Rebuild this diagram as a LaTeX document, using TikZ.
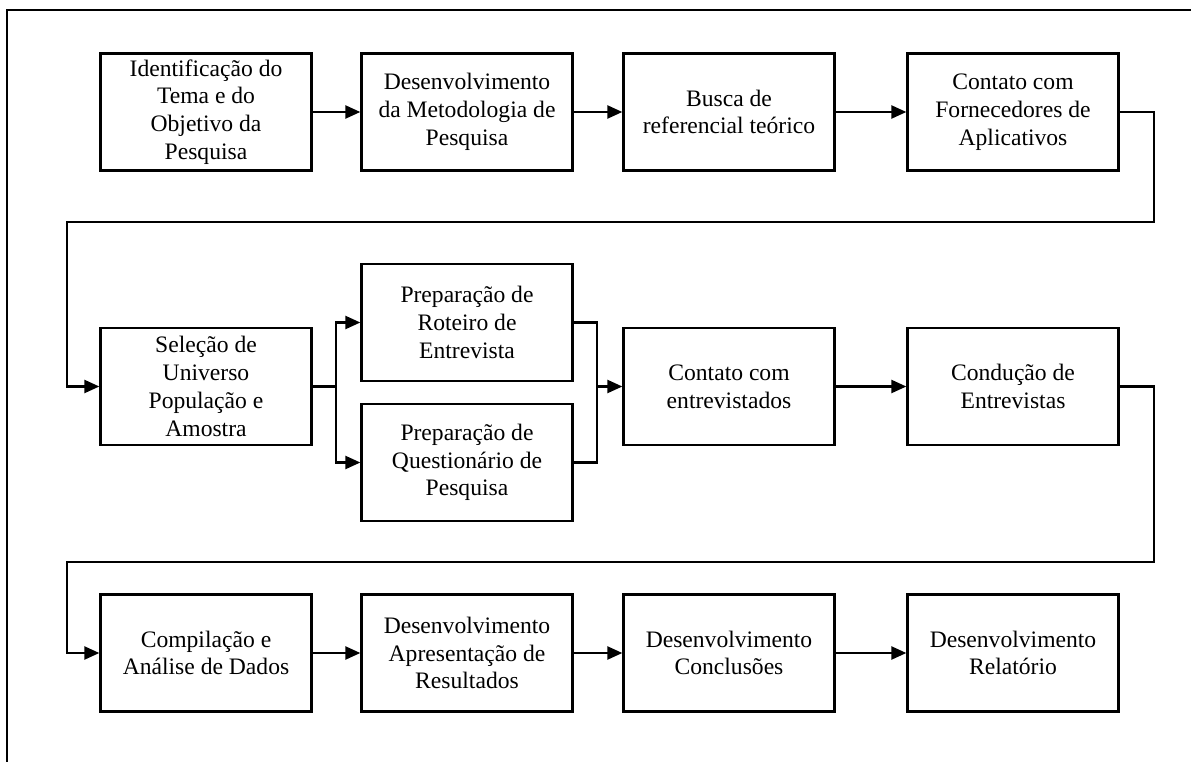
\documentclass[tikz,border=0pt]{standalone}
\usepackage{fontspec}
\setmainfont{Liberation Serif}
\usetikzlibrary{arrows.meta}
\begin{document}
\begin{tikzpicture}[x=1pt,y=-1pt,
  stepbox/.style={draw,line width=2.3pt,minimum width=211pt,minimum height=117pt,
    inner sep=0pt,align=center,font=\fontsize{23.6}{27.8}\selectfont},
  link/.style={line width=2.3pt},
  flow/.style={link,-{Triangle[length=15pt,width=13pt]}}]
  \useasboundingbox (0,0) rectangle (1191,762);
  \clip (0,0) rectangle (1191,762);
  % outer frame
  \draw[line width=2.3pt] (7,800) -- (7,10) -- (1250,10);

  % first row
  \node[stepbox] (b1) at (206,112)   {Identificação do\\Tema e do\\Objetivo da\\Pesquisa};
  \node[stepbox] (b2) at (467,112)   {Desenvolvimento\\da Metodologia de\\Pesquisa};
  \node[stepbox] (b3) at (729,112)   {Busca de\\referencial teórico};
  \node[stepbox] (b4) at (1013,112)  {Contato com\\Fornecedores de\\Aplicativos};
  % second row
  \node[stepbox] (b5) at (206,386.5) {Seleção de\\Universo\\População e\\Amostra};
  \node[stepbox] (b6) at (467,322.5) {Preparação de\\Roteiro de\\Entrevista};
  \node[stepbox] (b7) at (467,462.5) {Preparação de\\Questionário de\\Pesquisa};
  \node[stepbox] (b8) at (729,386.5) {Contato com\\entrevistados};
  \node[stepbox] (b9) at (1013,386.5){Condução de\\Entrevistas};
  % third row
  \node[stepbox] (b10) at (206,653)  {Compilação e\\Análise de Dados};
  \node[stepbox] (b11) at (467,653)  {Desenvolvimento\\Apresentação de\\Resultados};
  \node[stepbox] (b12) at (729,653)  {Desenvolvimento\\Conclusões};
  \node[stepbox] (b13) at (1013,653) {Desenvolvimento\\Relatório};

  % routing points
  \coordinate (r1a) at (1154,112);
  \coordinate (r1b) at (1154,222);
  \coordinate (r1c) at (67,222);
  \coordinate (r1d) at (67,386.5);
  \coordinate (fk)  at (336,386.5);
  \coordinate (mg)  at (597,386.5);
  \coordinate (r2a) at (1154,386.5);
  \coordinate (r2b) at (1154,562);
  \coordinate (r2c) at (67,562);
  \coordinate (r2d) at (67,653);

  % first row links
  \draw[flow] (b1) -- (b2);
  \draw[flow] (b2) -- (b3);
  \draw[flow] (b3) -- (b4);
  \draw[flow] (b4.east) -- (r1a) -- (r1b) -- (r1c) -- (r1d) -- (b5.west);
  % fork and merge
  \draw[link] (b5.east) -- (fk);
  \draw[flow] (fk) |- (b6.west);
  \draw[flow] (fk) |- (b7.west);
  \draw[link] (b6.east) -| (mg);
  \draw[link] (b7.east) -| (mg);
  \draw[flow] (mg) -- (b8.west);
  \draw[flow] (b8) -- (b9);
  \draw[flow] (b9.east) -- (r2a) -- (r2b) -- (r2c) -- (r2d) -- (b10.west);
  % third row links
  \draw[flow] (b10) -- (b11);
  \draw[flow] (b11) -- (b12);
  \draw[flow] (b12) -- (b13);
\end{tikzpicture}
\end{document}
